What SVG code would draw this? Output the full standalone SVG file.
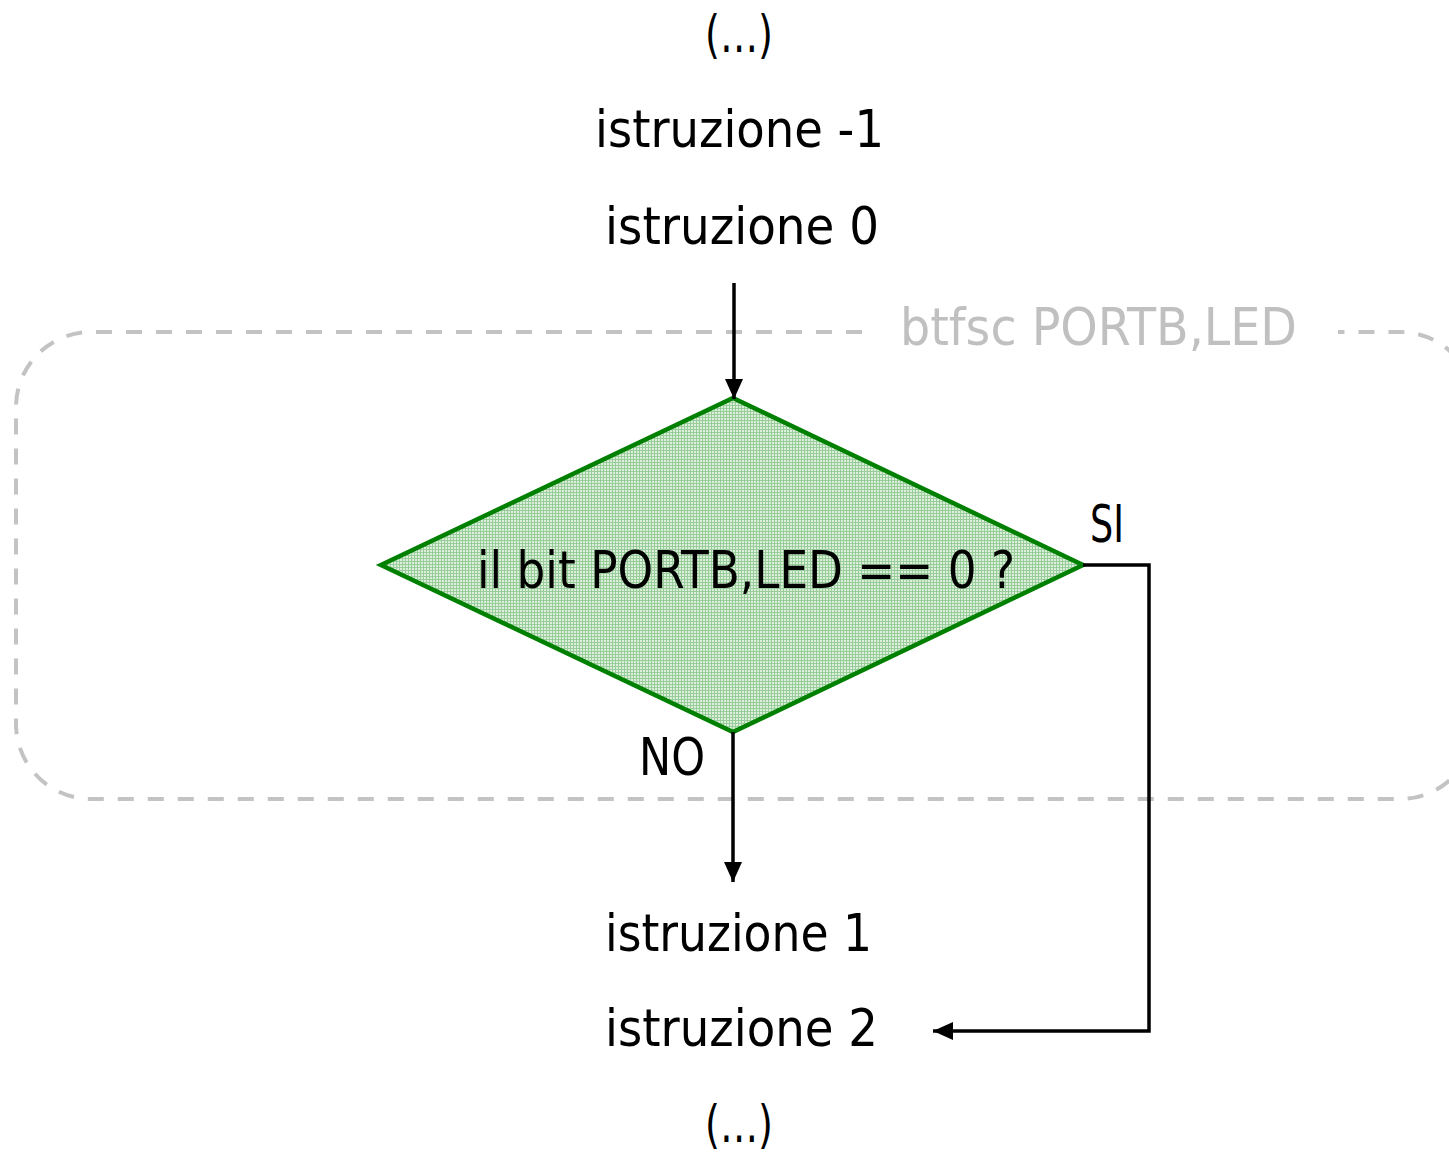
<svg xmlns="http://www.w3.org/2000/svg" width="1449" height="1154" viewBox="0 0 1449 1154">
  <style>
    .txt { font-family: "DejaVu Sans Condensed", "DejaVu Sans", "Liberation Sans", sans-serif; font-stretch: condensed; font-size: 52px; fill: #000; }
    .lbl { font-family: "DejaVu Sans Condensed", "DejaVu Sans", "Liberation Sans", sans-serif; font-stretch: condensed; font-size: 52px; fill: #c0c0c0; }
    .wire { fill: none; stroke: #000; stroke-width: 3.5; }
    .group-box { fill: none; stroke: #c3c3c3; stroke-width: 4; stroke-dasharray: 16 14; }
    .decision { fill: url(#hatch); stroke: #008000; stroke-width: 4.5; stroke-linejoin: miter; }
  </style>
  <defs>
    <!-- fine green grid used as the decision fill -->
    <pattern id="hatch" width="3" height="3" patternUnits="userSpaceOnUse">
      <rect width="3" height="3" fill="#dcefdc"/>
      <rect width="3" height="1" fill="#98cc98"/>
      <rect width="1" height="3" fill="#98cc98"/>
    </pattern>
    <marker id="arrow" viewBox="0 0 20 20" refX="20" refY="10" markerWidth="20" markerHeight="20" markerUnits="userSpaceOnUse" orient="auto">
      <path d="M0,1 L20,10 L0,19 z" fill="#000"/>
    </marker>
  </defs>

  <rect width="1449" height="1154" fill="#fff"/>

  <!-- dashed frame around the btfsc instruction -->
  <g id="btfsc-group">
    <path class="group-box" d="M 862 332 H 91 A 75 75 0 0 0 16 407 V 724 A 75 75 0 0 0 91 799 H 1400 A 75 75 0 0 0 1475 724 V 407 A 75 75 0 0 0 1400 332 H 1338"/>
    <text class="lbl" x="900" y="345" textLength="397" lengthAdjust="spacingAndGlyphs">btfsc PORTB,LED</text>
  </g>

  <g id="ellipsis-top"><text class="txt" x="705" y="52" textLength="68" lengthAdjust="spacingAndGlyphs">(…)</text></g>
  <g id="istr-m1"><text class="txt" x="595" y="147" textLength="289" lengthAdjust="spacingAndGlyphs">istruzione -1</text></g>
  <g id="istr-0"><text class="txt" x="605" y="244" textLength="274" lengthAdjust="spacingAndGlyphs">istruzione 0</text></g>

  <g id="decision">
    <polygon class="decision" points="733,398 1083,565 733,732 381,565"/>
    <text class="txt" x="477" y="588" textLength="538" lengthAdjust="spacingAndGlyphs">il bit PORTB,LED == 0 ?</text>
  </g>

  <g id="istr-1"><text class="txt" x="605" y="951" textLength="267" lengthAdjust="spacingAndGlyphs">istruzione 1</text></g>
  <g id="istr-2"><text class="txt" x="605" y="1046" textLength="273" lengthAdjust="spacingAndGlyphs">istruzione 2</text></g>
  <g id="ellipsis-bottom"><text class="txt" x="705" y="1142" textLength="68" lengthAdjust="spacingAndGlyphs">(…)</text></g>

  <g id="connectors">
    <path class="wire" d="M 734 283 V 399" marker-end="url(#arrow)"/>
    <path class="wire" d="M 733 732 V 882" marker-end="url(#arrow)"/>
    <path class="wire" d="M 1083 565 H 1149 V 1031 H 933" marker-end="url(#arrow)"/>
    <text class="txt" x="1090" y="542" textLength="34" lengthAdjust="spacingAndGlyphs">SI</text>
    <text class="txt" x="639" y="775" textLength="66" lengthAdjust="spacingAndGlyphs">NO</text>
  </g>
</svg>
